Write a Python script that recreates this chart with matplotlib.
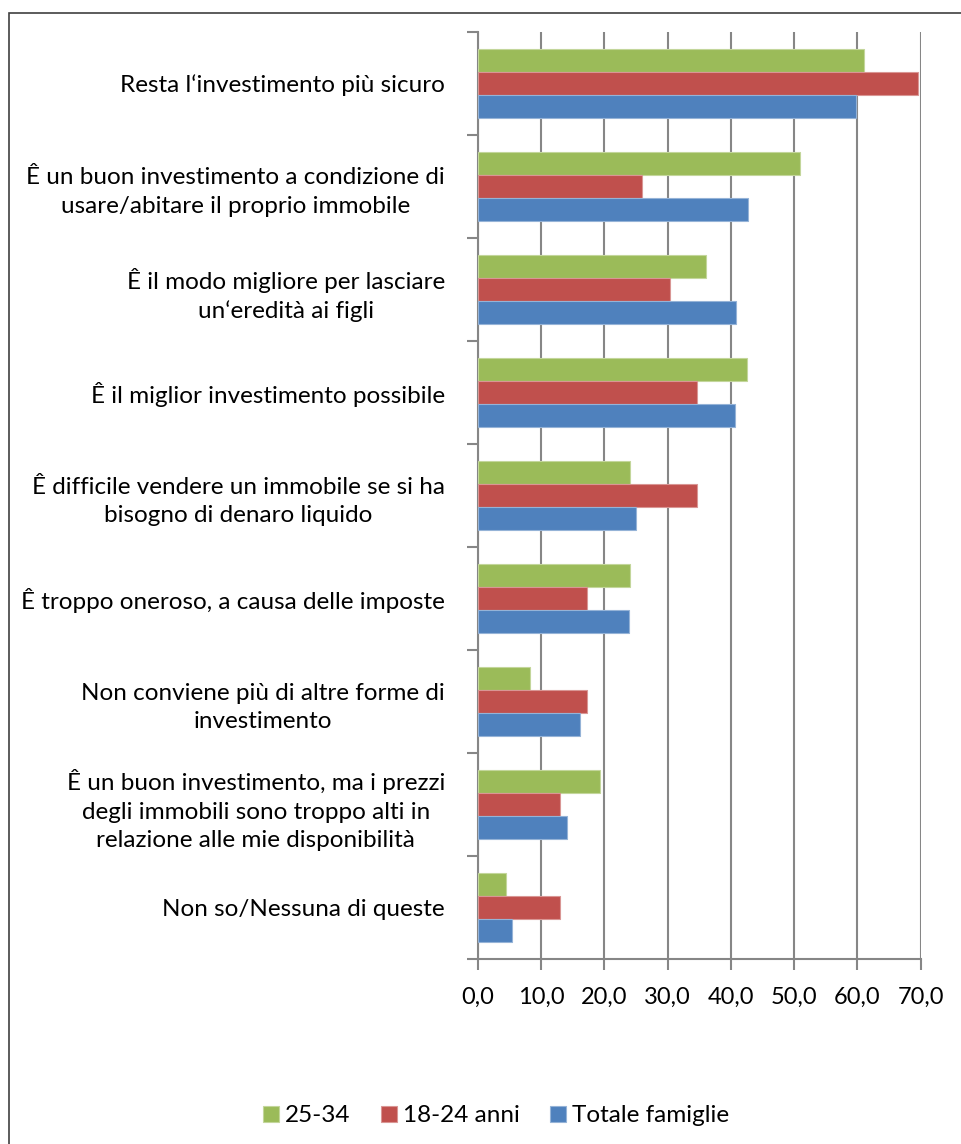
import matplotlib
matplotlib.use("Agg")
import matplotlib.pyplot as plt
import numpy as np
from matplotlib.patches import Rectangle

plt.rcParams['font.family'] = ['Lato', 'DejaVu Sans']

categories = [
    "Resta l\u2018investimento più sicuro",
    "Ê un buon investimento a condizione di\nusare/abitare il proprio immobile",
    "Ê il modo migliore per lasciare\nun\u2018eredità ai figli",
    "Ê il miglior investimento possibile",
    "Ê difficile vendere un immobile se si ha\nbisogno di denaro liquido",
    "Ê troppo oneroso, a causa delle imposte",
    "Non conviene più di altre forme di\ninvestimento",
    "Ê un buon investimento, ma i prezzi\ndegli immobili sono troppo alti in\nrelazione alle mie disponibilità",
    "Non so/Nessuna di queste",
]
series_names = ["25-34", "18-24 anni", "Totale famiglie"]
v_25_34 = [61.1, 50.9, 36.0, 42.5, 24.0, 24.0, 8.2, 19.3, 4.5]
v_18_24 = [69.6, 26.0, 30.4, 34.7, 34.7, 17.3, 17.3, 12.9, 12.9]
v_totale = [59.7, 42.7, 40.8, 40.6, 25.0, 23.8, 16.2, 14.1, 5.3]
x_ticks = [0, 10, 20, 30, 40, 50, 60, 70]

colors = ["#9BBB59", "#C0504D", "#4F81BD"]
edges = ["#C3D69B", "#D99694", "#95B3D7"]

fig = plt.figure(figsize=(9.61, 11.44), dpi=100)
ax = fig.add_axes([478 / 961, 185 / 1144, (920.7 - 478) / 961, (959 - 32) / 1144])

n = len(categories)
y = np.arange(n)
bh = 0.222
values = [v_25_34, v_18_24, v_totale]
for i, (vals, name) in enumerate(zip(values, series_names)):
    ax.barh(y + (i - 1) * bh, vals, height=bh, color=colors[i],
            edgecolor=edges[i], linewidth=0.8, label=name, zorder=3)

ax.set_xlim(0, 70)
ax.set_ylim(n - 0.5, -0.5)
ax.set_xticks(x_ticks)
ax.set_xticklabels([f"{t:.1f}".replace(".", ",") for t in x_ticks])
ax.set_yticks(y)
ax.set_yticklabels(categories, multialignment='center', linespacing=1.42)
ax.set_yticks(np.arange(n + 1) - 0.5, minor=True)

ax.grid(axis='x', color='#868686', linewidth=1.5, zorder=0)
for s in ['top', 'right']:
    ax.spines[s].set_visible(False)
for s in ['left', 'bottom']:
    ax.spines[s].set_color('#868686')
    ax.spines[s].set_linewidth(1.5)

ax.tick_params(axis='y', which='major', length=0, pad=23.8, labelsize=17.5)
ax.tick_params(axis='y', which='minor', length=8, width=1.5, color='#868686')
ax.tick_params(axis='x', length=8, width=1.5, color='#868686', pad=12, labelsize=17)

leg = fig.legend(loc='center', bbox_to_anchor=(496 / 961, 1 - 1116 / 1144),
                 ncol=3, frameon=False, fontsize=17.5, handlelength=0.65,
                 handleheight=0.65, handletextpad=0.25, columnspacing=1.25)

# outer chart frame
fig.add_artist(Rectangle((9 / 961, -0.1), 1.2, 1 - 13 / 1144 + 0.1,
                         transform=fig.transFigure, fill=False,
                         edgecolor='#404040', linewidth=1.2))

fig.savefig("out.png", dpi=100, facecolor='white')
